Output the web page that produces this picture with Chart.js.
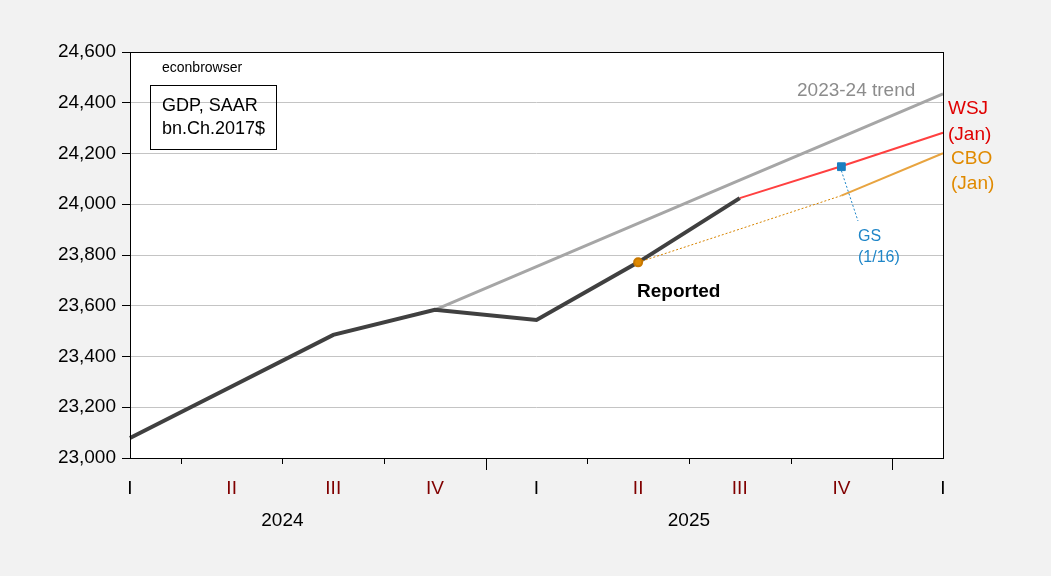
<!DOCTYPE html>
<html>
<head>
<meta charset="utf-8">
<script src="https://cdn.jsdelivr.net/npm/chart.js@4"></script>
<style>
  body { margin: 0; background: #f2f2f2; }
  canvas { display: block; }
</style>
</head>
<body>
<canvas id="gdpChart" width="1051" height="576"></canvas>
<script>
// quarters, 2024Q1 .. 2026Q1
const quarters = ['I', 'II', 'III', 'IV', 'I', 'II', 'III', 'IV', 'I'];
const years = [{ label: '2024', at: 1.5 }, { label: '2025', at: 5.5 }];
const yTicks = [23000, 23200, 23400, 23600, 23800, 24000, 24200, 24400, 24600];

const reported = [23079, 23282, 23485, 23584, 23544, 23771, 24024, null, null];
const trend = [null, null, null, 23584, 23754, 23925, 24095, 24265, 24435];
const wsj = [null, null, null, null, null, null, 24024, 24150, 24282];
const cbo = [null, null, null, null, null, 23771, 23902, 24034, 24201];
const gs = [null, null, null, null, null, null, null, 24148, null];

const FONT = "'Liberation Sans', Arial, sans-serif";

const decorations = {
    id: 'decorations',
    beforeDraw(chart) {
        const { ctx, chartArea: a } = chart;
        ctx.save();
        ctx.fillStyle = '#ffffff';
        ctx.fillRect(a.left, a.top, a.right - a.left, a.bottom - a.top);
        ctx.restore();
    },
    afterDraw(chart) {
        const { ctx, chartArea: a } = chart;
        const xs = chart.scales.x;
        const ys = chart.scales.y;
        ctx.save();

        // frame
        ctx.strokeStyle = '#000';
        ctx.lineWidth = 1;
        ctx.strokeRect(Math.round(a.left) + 0.5, Math.round(a.top) + 0.5,
            Math.round(a.right - a.left), Math.round(a.bottom - a.top));

        // x tick marks between quarters, longer at year breaks
        for (let i = 0; i < quarters.length - 1; i++) {
            const x = Math.round(xs.getPixelForValue(i + 0.5)) + 0.5;
            const len = (i === 3 || i === 7) ? 12 : 6;
            ctx.beginPath();
            ctx.moveTo(x, a.bottom);
            ctx.lineTo(x, a.bottom + len);
            ctx.stroke();
        }

        // year labels
        ctx.font = '19px ' + FONT;
        ctx.fillStyle = '#000';
        ctx.textAlign = 'center';
        ctx.textBaseline = 'middle';
        years.forEach(y => ctx.fillText(y.label, xs.getPixelForValue(y.at), 521));

        // title box
        ctx.textAlign = 'left';
        ctx.font = '14px ' + FONT;
        ctx.fillText('econbrowser', 162, 68);
        ctx.strokeRect(150.5, 85.5, 126, 64);
        ctx.font = '18px ' + FONT;
        ctx.fillText('GDP, SAAR', 162, 106);
        ctx.fillText('bn.Ch.2017$', 162, 129);

        // series labels
        ctx.font = '19px ' + FONT;
        ctx.fillStyle = '#8c8c8c';
        ctx.fillText('2023-24 trend', 797, 91);
        ctx.fillStyle = '#e00000';
        ctx.fillText('WSJ', 948, 109);
        ctx.fillText('(Jan)', 948, 135);
        ctx.fillStyle = '#e08a00';
        ctx.fillText('CBO', 951, 159);
        ctx.fillText('(Jan)', 951, 184);
        ctx.fillStyle = '#000';
        ctx.font = 'bold 19px ' + FONT;
        ctx.fillText('Reported', 637, 292);

        // GS leader + label
        const gx = xs.getPixelForValue(7);
        const gy = ys.getPixelForValue(gs[7]);
        ctx.strokeStyle = '#1f86c8';
        ctx.setLineDash([2, 2]);
        ctx.beginPath();
        ctx.moveTo(gx, gy + 4);
        ctx.lineTo(858, 221);
        ctx.stroke();
        ctx.setLineDash([]);
        ctx.fillStyle = '#1f86c8';
        ctx.font = '16px ' + FONT;
        ctx.fillText('GS', 858, 237);
        ctx.fillText('(1/16)', 858, 258);

        ctx.restore();
    }
};

new Chart(document.getElementById('gdpChart'), {
    type: 'line',
    data: {
        labels: quarters,
        datasets: [
            {
                label: 'GS',
                data: gs,
                showLine: false,
                pointStyle: 'rect',
                pointRadius: 5.5,
                backgroundColor: '#1a7fc1',
                borderColor: '#1a7fc1',
                order: 0
            },
            {
                label: 'CBO',
                data: cbo,
                borderColor: '#e8a440',
                borderWidth: 2,
                pointRadius: c => c.dataIndex === 5 ? 4 : 0,
                pointBackgroundColor: '#e08a00',
                pointBorderColor: '#c87800',
                segment: {
                    borderDash: c => c.p0DataIndex < 7 ? [2, 2] : undefined,
                    borderWidth: c => c.p0DataIndex < 7 ? 1 : 2,
                    borderColor: c => c.p0DataIndex < 7 ? '#d88400' : '#e8a440'
                },
                order: 1
            },
            {
                label: 'Reported',
                data: reported,
                borderColor: '#404040',
                borderWidth: 4,
                pointRadius: 0,
                order: 2
            },
            {
                label: 'WSJ',
                data: wsj,
                borderColor: '#ff4040',
                borderWidth: 2,
                pointRadius: 0,
                order: 3
            },
            {
                label: '2023-24 trend',
                data: trend,
                borderColor: '#a6a6a6',
                borderWidth: 3,
                pointRadius: 0,
                order: 4
            }
        ]
    },
    options: {
        responsive: false,
        animation: false,
        layout: { padding: { left: 0, right: 108, top: 52, bottom: 0 } },
        plugins: {
            legend: { display: false },
            tooltip: { enabled: false }
        },
        scales: {
            x: {
                offset: false,
                grid: { display: false },
                border: { display: false },
                ticks: {
                    padding: 11,
                    maxRotation: 0,
                    autoSkip: false,
                    font: { family: FONT, size: 19 },
                    color: c => c.index % 4 === 0 ? '#000' : '#800000'
                },
                afterFit: s => { s.height = 118; }
            },
            y: {
                min: yTicks[0],
                max: yTicks[yTicks.length - 1],
                afterBuildTicks: s => { s.ticks = yTicks.map(v => ({ value: v })); },
                grid: { color: '#c4c4c4', tickColor: '#000', tickLength: 8 },
                border: { display: false },
                ticks: {
                    padding: 6,
                    font: { family: FONT, size: 19 },
                    color: '#000',
                    callback: v => v.toLocaleString('en-US')
                },
                afterFit: s => { s.width = 130; }
            }
        }
    },
    plugins: [decorations]
});
</script>
</body>
</html>
